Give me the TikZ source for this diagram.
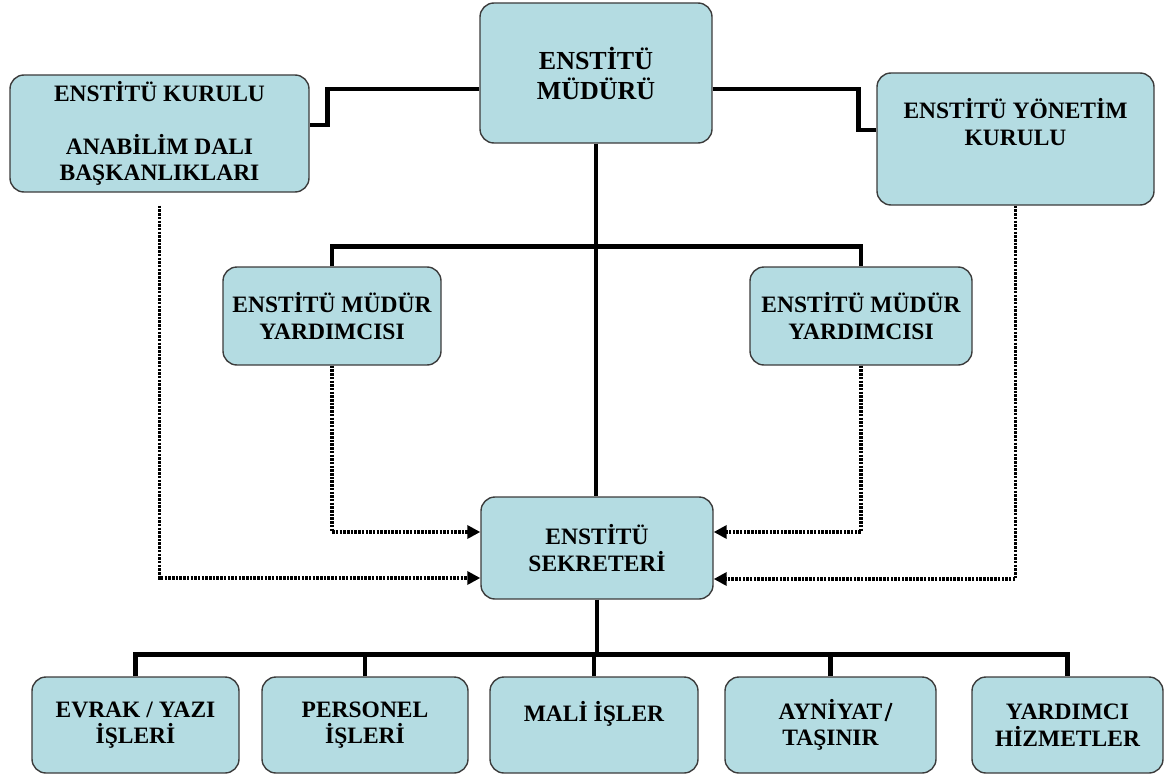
\documentclass[tikz,border=0pt]{standalone}
\usepackage{fontspec}
\setmainfont{Liberation Serif}
\usetikzlibrary{arrows.meta}
\definecolor{boxfill}{RGB}{180,220,226}
\definecolor{boxline}{RGB}{60,60,60}
\begin{document}
\begin{tikzpicture}[x=1pt,y=-1pt,
  boxfont/.style={font=\bfseries\fontsize{23.5}{26.5}\selectfont},
  box/.style={draw=boxline, line width=1.4pt, fill=boxfill, rounded corners=14pt,
    align=center, inner sep=0pt, boxfont},
  bigbox/.style={box, font=\bfseries\fontsize{26}{30}\selectfont},
  conn/.style={line width=4.5pt},
  dotconn/.style={line width=3.5pt, dash pattern=on 2.5pt off 1.2pt,
    -{Triangle[length=13pt,width=13pt]}},
  slashline/.style={line width=2pt}
]
\useasboundingbox (0,0) rectangle (1165,776);

% boxes
\node[bigbox, minimum width=232pt, minimum height=140pt] (mud) at (596,73) {ENSTİTÜ\\MÜDÜRÜ};
\node[box, minimum width=299pt, minimum height=117pt] (kur) at (159.5,133.5)
  {ENSTİTÜ KURULU\\~\\ANABİLİM DALI\\BAŞKANLIKLARI};
\node[box, minimum width=277pt, minimum height=132pt] (yon) at (1015.5,139)
  {ENSTİTÜ YÖNETİM\\KURULU\\[8pt]~};
\node[box, minimum width=218pt, minimum height=98pt] (yar1) at (332,316) {ENSTİTÜ MÜDÜR\\YARDIMCISI};
\node[box, minimum width=222pt, minimum height=98pt] (yar2) at (861,316) {ENSTİTÜ MÜDÜR\\YARDIMCISI};
\node[box, minimum width=232pt, minimum height=102pt] (sek) at (597,548) {ENSTİTÜ\\SEKRETERİ};

\node[box, minimum width=207pt, minimum height=96pt] (evr) at (135.5,725) {EVRAK / YAZI\\İŞLERİ};
\node[box, minimum width=206pt, minimum height=96pt] (per) at (365,725) {PERSONEL\\İŞLERİ};
\node[box, minimum width=208pt, minimum height=96pt] (mal) at (594,725) {MALİ İŞLER\\~};
\node[box, minimum width=211pt, minimum height=96pt] (ayn) at (830.5,725)
  {AYNİYAT\hspace{0.528em}\\TAŞINIR};
% the slash after AYNİYAT, drawn as a stroke
\coordinate (sl1) at (885.5,721);
\coordinate (sl2) at (891.5,703);
\draw[slashline] (sl1) -- (sl2);
\node[box, minimum width=191pt, minimum height=96pt] (yhz) at (1067.5,725) {YARDIMCI\\HİZMETLER};

% solid connectors
\draw[conn] ([yshift=-16pt]mud.west) -- ++(-152,0) |- ([yshift=8.5pt]kur.east);
\draw[conn] ([yshift=-16pt]mud.east) -- ++(146,0) |- ([yshift=9pt]yon.west);
\draw[conn, line width=3.5pt] (mud.south) -- (mud.south |- sek.north);
\draw[conn] (yar1.north) -- ++(0,-20) -| (yar2.north);
\draw[conn] (sek.south) -- ++(0,56);
\draw[conn] (evr.north) -- ++(0,-22) -| (yhz.north);
\draw[conn] (per.north) -- ++(0,-22);
\draw[conn] (mal.north) -- ++(0,-22);
\draw[conn] (ayn.north) -- ++(0,-22);

% dotted connectors
\draw[dotconn] ([yshift=-13pt]kur.south) |- ([yshift=-30pt]sek.west);
\draw[dotconn] (yar1.south) |- ([yshift=16pt]sek.west);
\draw[dotconn] (yar2.south) |- ([yshift=16pt]sek.east);
\draw[dotconn] (yon.south) |- ([yshift=-31pt]sek.east);
\end{tikzpicture}
\end{document}
